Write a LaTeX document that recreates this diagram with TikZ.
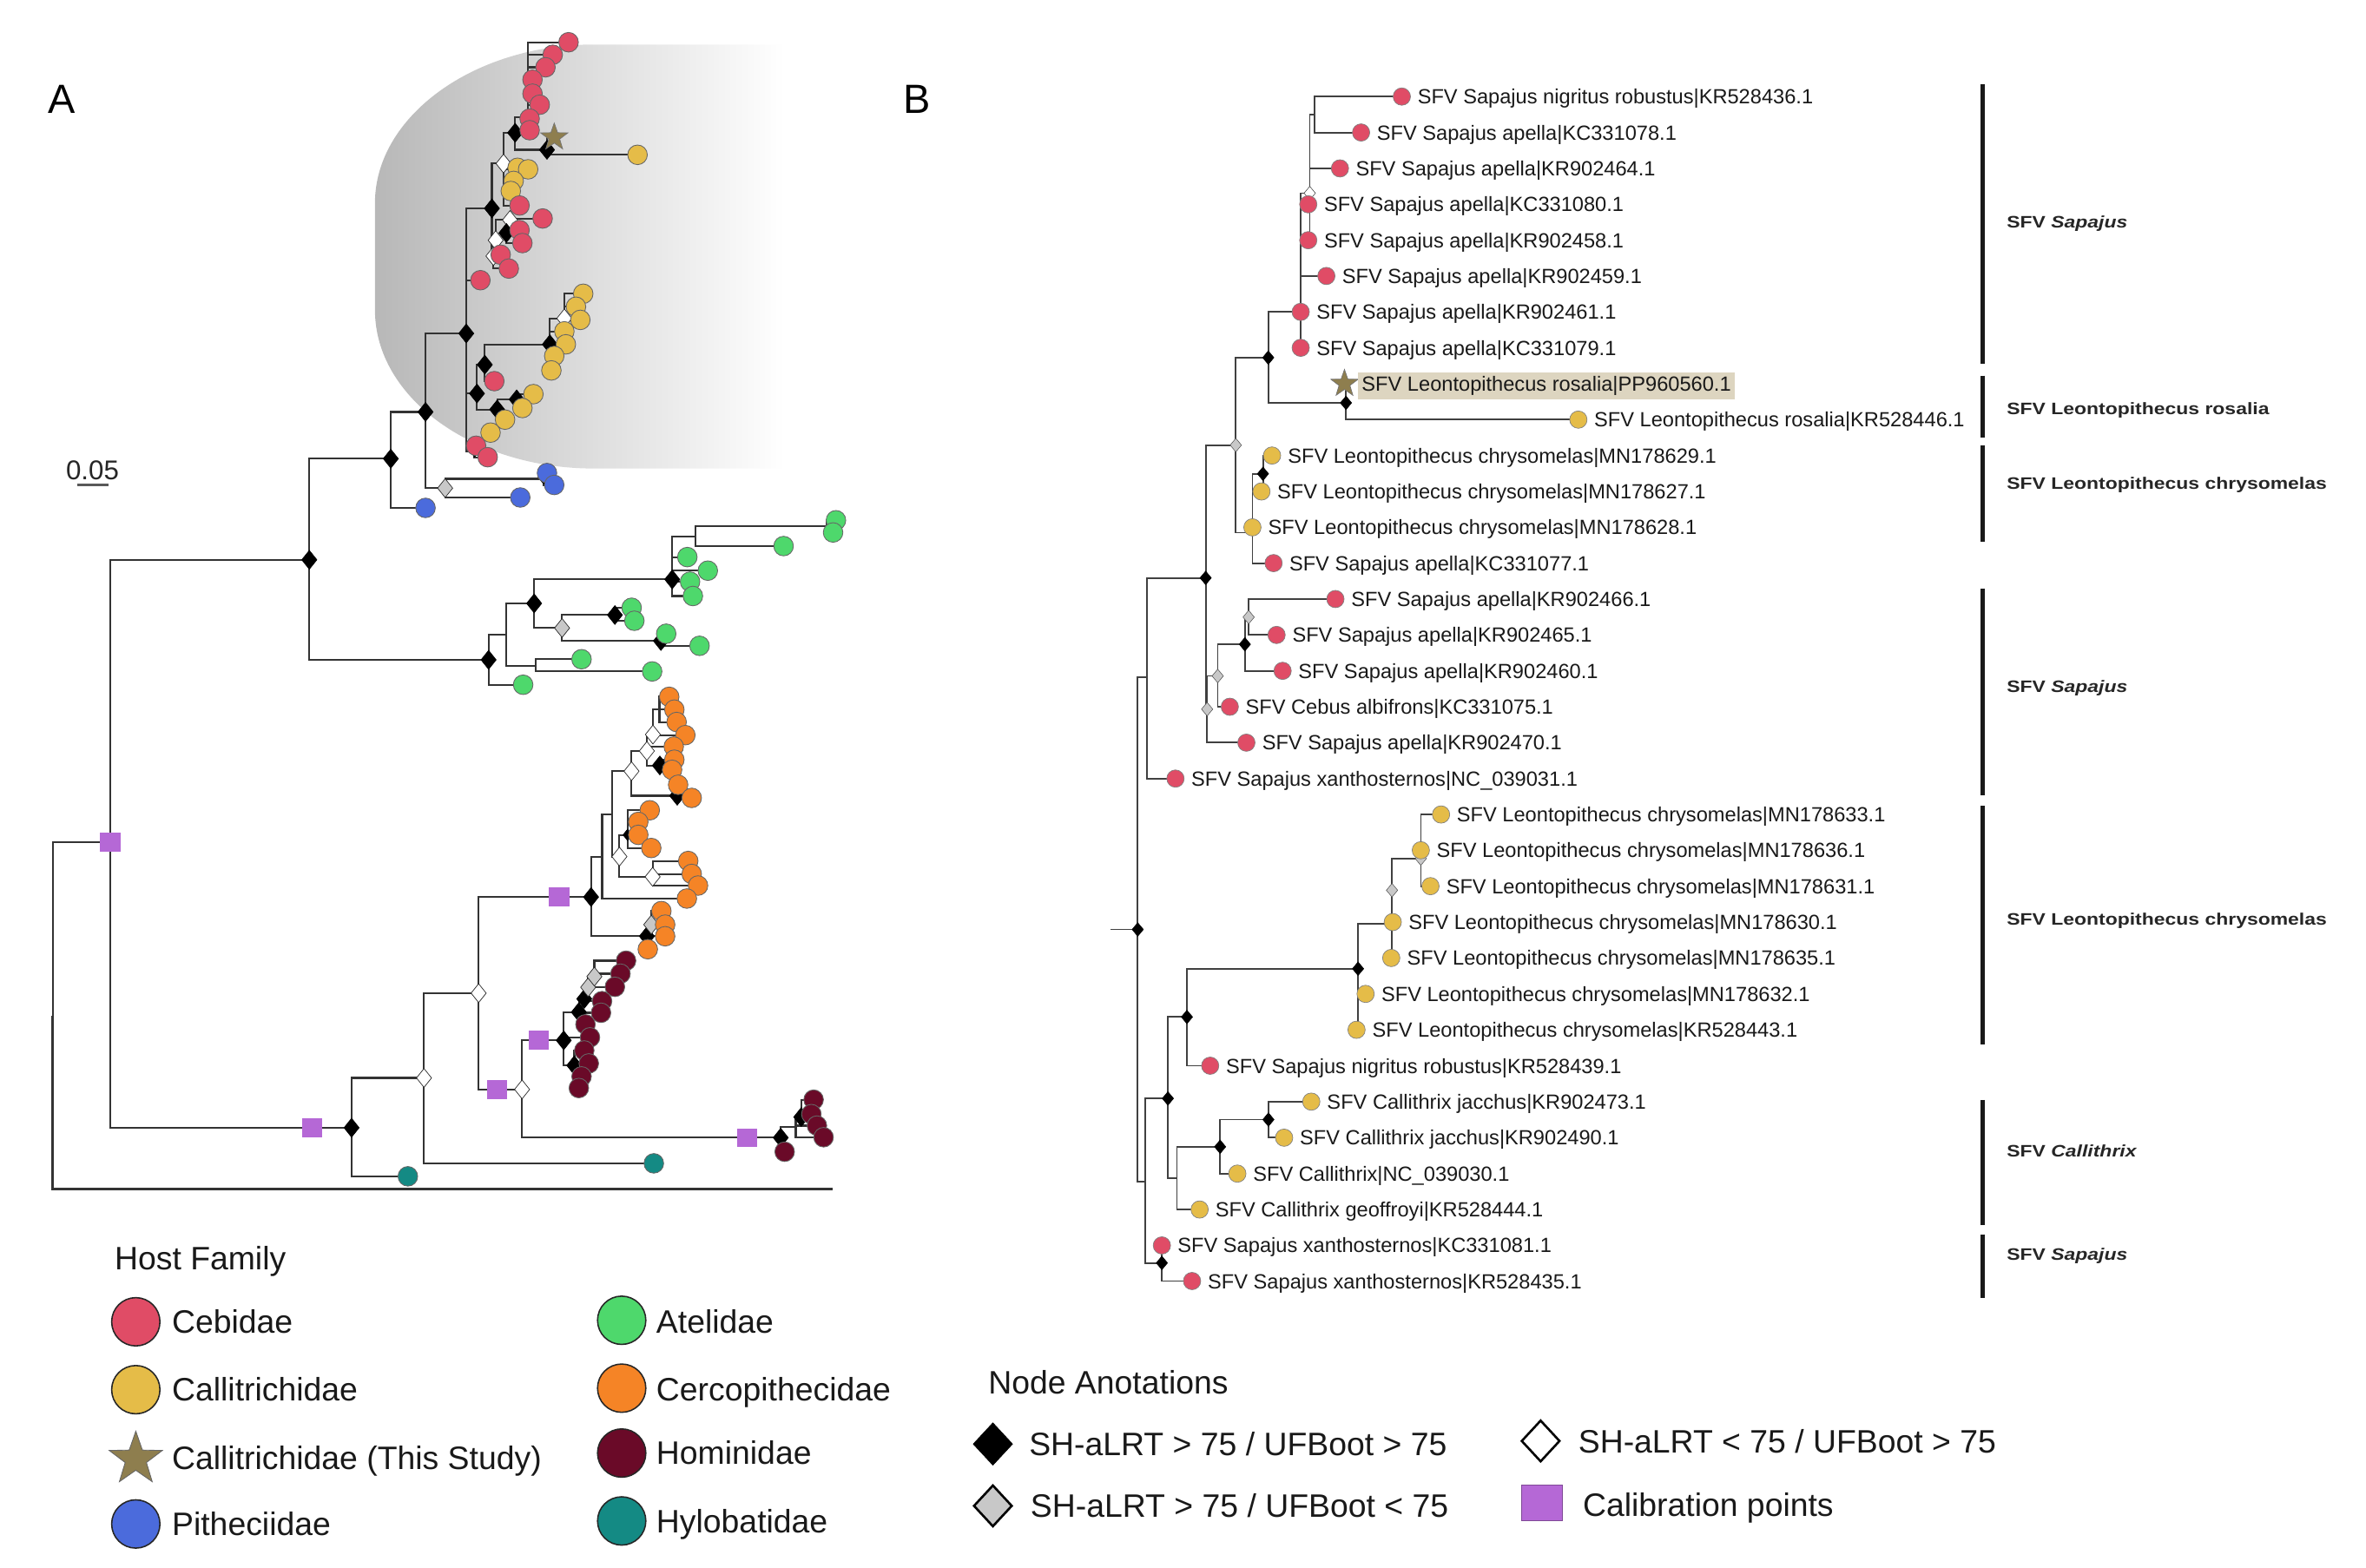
\documentclass[tikz,border=0pt]{standalone}
\usepackage{fontspec}
\setmainfont{Liberation Sans}
\newfontfamily\cladefont{Liberation Sans}[FakeStretch=1.2]
\usetikzlibrary{shapes.geometric}
\pgfdeclarelayer{grad}\pgfdeclarelayer{bg}\pgfsetlayers{grad,bg,main}
\definecolor{cebR}{HTML}{E04C66}
\definecolor{calY}{HTML}{E5BC48}
\definecolor{pitB}{HTML}{4B6BDC}
\definecolor{ateG}{HTML}{4ED86C}
\definecolor{cerO}{HTML}{F58426}
\definecolor{homM}{HTML}{6A0A28}
\definecolor{hylT}{HTML}{148A84}
\definecolor{starC}{HTML}{8E7E4E}
\definecolor{calP}{HTML}{B568D6}
\definecolor{diaG}{HTML}{C8C8C8}
\definecolor{hiB}{HTML}{DDD5C0}
\tikzset{
 every node/.style={inner sep=0pt, outer sep=0pt},
 brA/.style={line width=1.25pt, draw=black!80},
 brB/.style={line width=1.05pt, draw=black!75},
 tipA/.style={circle, minimum size=13pt, draw=black!60, line width=0.5pt},
 tipB/.style={circle, minimum size=11.5pt, draw=black!50, line width=0.4pt},
 tipL/.style={circle, minimum size=32pt, draw=black!85, line width=0.9pt},
 bdA/.style={diamond, fill=black, draw=black, line width=0.4pt, minimum width=10pt, minimum height=12.5pt},
 wdA/.style={bdA, fill=white, draw=black!85},
 gdA/.style={bdA, fill=diaG, draw=black!85},
 sdA/.style={bdA, minimum width=6pt, minimum height=7.5pt},
 bdB/.style={diamond, fill=black, draw=black, line width=0.3pt, minimum width=7.5pt, minimum height=9pt},
 wdB/.style={bdB, fill=white, draw=black!80},
 gdB/.style={bdB, fill=diaG, draw=black!70},
 calsq/.style={rectangle, fill=calP, minimum width=13.5pt, minimum height=12.5pt},
 starA/.style={star, star points=5, star point ratio=2.5, fill=starC, draw=black!55, line width=0.4pt, minimum size=19pt},
 labB/.style={anchor=base west, font=\fontsize{13.6}{16}\selectfont, text=black!90},
 cladeL/.style={anchor=base west, font=\cladefont\bfseries\fontsize{11}{13}\selectfont, text=black!85},
 legT/.style={anchor=base west, font=\fontsize{21.5}{25}\selectfont, text=black!90},
 barB/.style={line width=3pt, draw=black!90},
}
\newcommand\kidsA[2]{\foreach \cc in {#2}{\draw[brA] (#1.center) |- (\cc.center);}}
\newcommand\kidsB[2]{\foreach \cc in {#2}{\draw[brB] (#1.center) |- (\cc.center);}}
\newcommand\tA[4]{\node[tipA,fill=#4] (#1) at (#2,#3) {};}
\newcommand\tB[5]{\node[tipB,fill=#4] (#1) at (#2,#3) {};\path (#1.center) ++(10.5,4.9) node[labB] (#1l) {#5};}
\begin{document}
\begin{tikzpicture}[x=1pt,y=-1pt]
\useasboundingbox (0,0) rectangle (1568,1039);
% ---------------- Panel labels
\node[font=\fontsize{27}{30}\selectfont] (panA) at (41,66) {A};
\node[font=\fontsize{27}{30}\selectfont] (panB) at (608,66) {B};
% ---------------- gradient clade highlight
\begin{pgfonlayer}{grad}
\shade[left color=black!28, middle color=black!14, right color=white]
 (520,29.5) -- (393.5,29.5) .. controls (313.5,29.5) and (248.5,77.5) .. (248.5,134.5)
 -- (248.5,205.5) .. controls (248.5,263.5) and (313.5,310.5) .. (393.5,310.5) -- (520,310.5) -- cycle;
\end{pgfonlayer}
% ---------------- scale bar
\node[anchor=base, font=\fontsize{18}{20}\selectfont, text=black!85] (scl) at (61.3,318) {0.05};
\coordinate (sclA) at (51,321.5); \coordinate (sclB) at (72,321.5);
\draw[line width=1.6pt, black!65] (sclA) -- (sclB);
% ================= PANEL A nodes
\coordinate (rootA) at (35,673);
\coordinate (outE) at (552,788);
\node[calsq] (R1) at (73,558) {};
\node[bdA] (N1) at (205,371) {};
\node[bdA] (N2) at (259,304) {};
\node[bdA] (N3) at (323.8,437.3) {};
\node[bdA] (N4) at (282,273) {};
\node[bdA] (N5) at (309,221) {};
\node[gdA] (P1) at (295,323.5) {};
\node[sdA] (P2) at (360.5,317.3) {};
\node[bdA] (N6) at (326,138.1) {};
\node[wdA] (C3) at (333.7,108.4) {};
\node[bdA] (C1) at (341.4,88) {};
\coordinate (Ca) at (350,77.6);
\node[bdA] (C2) at (362.5,99.3) {};
\node[wdA] (G1) at (327,169.7) {};
\node[wdA] (G2) at (328.5,159.2) {};
\node[wdA] (G3) at (338,145.8) {};
\node[bdA] (G4) at (335.6,154.4) {};
\node[bdA] (N8) at (316.1,260.8) {};
\node[bdA] (N7) at (321.3,241.7) {};
\node[bdA] (N10) at (364.4,228.2) {};
\node[wdA] (N11) at (374,211) {};
\node[bdA] (N9) at (329.5,271.4) {};
\node[bdA] (N9b) at (342.4,264.7) {};
\node[sdA] (Nb) at (314.5,299) {};
\coordinate (A1) at (335.6,420.4);
\coordinate (A3) at (354.8,441.5);
\node[bdA] (A2) at (354,399.9) {};
\node[gdA] (A5) at (372.5,416.2) {};
\node[bdA] (A6) at (407.5,407.6) {};
\node[bdA] (A7) at (438,424.8) {};
\node[bdA] (A4) at (445.5,384) {};
\coordinate (A8) at (461,355.6);
\coordinate (A9) at (548,348.8);
\node[bdA] (O1) at (233,747.4) {};
\node[wdA] (O2) at (281,714.4) {};
\node[wdA] (O3) at (317.2,658.2) {};
\node[bdA] (O4) at (391.7,594.5) {};
\coordinate (O6) at (399,567.7);
\coordinate (O8) at (405.7,539.9);
\node[wdA] (O9) at (418.5,511.1) {};
\node[wdA] (O9a) at (428.7,497.7) {};
\node[wdA] (O9c) at (432.7,486.8) {};
\coordinate (O9e) at (437,470);
\node[bdA] (O9d) at (437.3,507.3) {};
\node[bdA] (O9b) at (448.8,527.4) {};
\node[wdA] (O10) at (410.5,567.7) {};
\node[sdA] (O10a) at (415.9,553.3) {};
\node[wdA] (O11) at (432.5,581.1) {};
\node[bdA] (O7) at (428.7,620.5) {};
\node[gdA] (O7g) at (431.6,612.8) {};
\node[wdA] (O5) at (346,722) {};
\node[bdA] (O12) at (373.6,689.5) {};
\node[bdA] (O14) at (383.6,670.8) {};
\node[bdA] (O14a) at (387.2,662) {};
\node[gdA] (O14b) at (389.8,654.3) {};
\node[gdA] (O14c) at (393.9,647.2) {};
\node[bdA] (O15) at (380.6,706.1) {};
\node[bdA] (O13) at (517.4,754) {};
\coordinate (O13a) at (527.4,747);
\node[bdA] (O13b) at (531,740.3) {};
% calibration squares on branches
\node[calsq] (cal1) at (207,747.4) {};
\node[calsq] (cal2) at (370.6,594.5) {};
\node[calsq] (cal3) at (329.3,722) {};
\node[calsq] (cal4) at (357,689.5) {};
\node[calsq] (cal5) at (495,754) {};
% ---- Panel A tips
\tA{r1}{376.8}{28}{cebR}\tA{r2}{366.3}{36.3}{cebR}\tA{r3}{361.5}{44.6}{cebR}\tA{r4}{352.9}{52.8}{cebR}
\tA{r5}{352.9}{62.1}{cebR}\tA{r6}{357.7}{69.4}{cebR}\tA{r7}{351}{78.6}{cebR}\tA{r8}{351}{86.3}{cebR}
\tA{ay1}{422.5}{102.6}{calY}
\tA{y1}{343}{111.2}{calY}\tA{y2}{350}{112.2}{calY}\tA{y3}{340.4}{119.9}{calY}\tA{y4}{338.5}{126.6}{calY}
\tA{r9}{344.3}{136.2}{cebR}
\tA{r10}{359.6}{144.8}{cebR}\tA{r11}{344.3}{152.5}{cebR}\tA{r12}{346.2}{161.1}{cebR}
\tA{r13}{331.8}{168.8}{cebR}\tA{r14}{337.2}{178}{cebR}\tA{r15}{318.4}{185.7}{cebR}
\tA{y5}{386.5}{194.7}{calY}\tA{y6}{381.7}{203.3}{calY}\tA{y7}{384.6}{212}{calY}\tA{y8}{374}{219.6}{calY}
\tA{y9}{375}{228.2}{calY}\tA{y10}{367.3}{235.9}{calY}\tA{y11}{365.4}{245.5}{calY}
\tA{r16}{327.6}{252.6}{cebR}
\tA{y12}{353.5}{261.2}{calY}\tA{y13}{346.2}{270.4}{calY}\tA{y14}{334.7}{278.1}{calY}\tA{y15}{325.1}{286.7}{calY}
\tA{r17}{315.5}{295.4}{cebR}\tA{r18}{323.2}{303}{cebR}
\tA{pb1}{362.5}{313.5}{pitB}\tA{pb2}{367.3}{321.4}{pitB}\tA{pb3}{344.8}{329.7}{pitB}\tA{pb4}{282}{336.6}{pitB}
\tA{g1}{554}{344.8}{ateG}\tA{g2}{552.1}{352.9}{ateG}\tA{g3}{519.3}{361.9}{ateG}\tA{g4}{455.5}{369.2}{ateG}
\tA{g5}{469.1}{378.2}{ateG}\tA{g6}{457.3}{385.5}{ateG}\tA{g7}{459.2}{395}{ateG}\tA{g8}{418.6}{402.8}{ateG}
\tA{g9}{420.4}{411.4}{ateG}\tA{g10}{441.5}{420}{ateG}\tA{g11}{463.6}{428}{ateG}\tA{g12}{385.4}{436.9}{ateG}
\tA{g13}{432.2}{445}{ateG}\tA{g14}{346.7}{453.8}{ateG}
\tA{o1}{443.5}{461.8}{cerO}\tA{o2}{446.9}{470.3}{cerO}\tA{o3}{448.4}{478.5}{cerO}\tA{o4}{454.2}{487.2}{cerO}
\tA{o5}{446.5}{494.8}{cerO}\tA{o6}{446.9}{503.5}{cerO}\tA{o7}{445.4}{510.2}{cerO}\tA{o8}{449.4}{520.1}{cerO}
\tA{o9}{458.4}{528.8}{cerO}\tA{o10}{430.6}{537}{cerO}\tA{o11}{423}{544.7}{cerO}\tA{o12}{423}{553.3}{cerO}
\tA{o13}{431.6}{562}{cerO}\tA{o14}{456.1}{570.6}{cerO}\tA{o15}{458.4}{579.2}{cerO}\tA{o16}{462.6}{586.9}{cerO}
\tA{o17}{455.2}{595.5}{cerO}\tA{o18}{438.3}{603.8}{cerO}\tA{o19}{440.8}{612.8}{cerO}\tA{o20}{440.8}{620.5}{cerO}
\tA{o21}{429.3}{629.1}{cerO}
\tA{m1}{414.9}{636.7}{homM}\tA{m2}{411.2}{645.3}{homM}\tA{m3}{407.5}{654}{homM}\tA{m4}{399}{663.5}{homM}
\tA{m5}{398.3}{671.2}{homM}\tA{m6}{388}{678.9}{homM}\tA{m7}{391}{687.5}{homM}\tA{m8}{387.2}{696.2}{homM}
\tA{m9}{390.2}{704.8}{homM}\tA{m10}{385.4}{713.4}{homM}\tA{m11}{383.6}{721.1}{homM}
\tA{m12}{539.2}{728.8}{homM}\tA{m13}{537.7}{738.4}{homM}\tA{m14}{541.4}{746}{homM}\tA{m15}{545.8}{753.7}{homM}
\tA{m16}{520}{763.3}{homM}
\tA{t1}{270.3}{779.6}{hylT}\tA{t2}{433.3}{771}{hylT}
\node[starA] (ast) at (367.3,91) {};
% ---- Panel A branches
\begin{pgfonlayer}{bg}
\kidsA{rootA}{R1}
\draw[brA, line width=1.6pt] (rootA.center) |- (outE.center);
\kidsA{R1}{N1,O1}
\kidsA{N1}{N2,N3}
\kidsA{N2}{N4,pb4}
\kidsA{N4}{N5,P1}
\kidsA{P1}{P2,pb3}
\kidsA{P2}{pb1,pb2}
\kidsA{N5}{N6,r15,N8,Nb}
\kidsA{N6}{C3,G1}
\kidsA{C3}{C1,y1,y2,y3,y4,r9}
\kidsA{C1}{Ca,C2}
\kidsA{Ca}{r1,r2,r3,r4,r5,r6,r7,r8}
\kidsA{C2}{ast,ay1}
\kidsA{G1}{G2,r14}
\kidsA{G2}{G3,r13}
\kidsA{G3}{r10,G4}
\kidsA{G4}{r11,r12}
\kidsA{N8}{N7,N9}
\kidsA{N7}{N10,r16}
\kidsA{N10}{N11,y8,y9,y10,y11}
\kidsA{N11}{y5,y6,y7}
\kidsA{N9}{N9b,y14,y15}
\kidsA{N9b}{y12,y13}
\kidsA{Nb}{r17,r18}
\kidsA{N3}{A1,g14}
\kidsA{A1}{A2,A3}
\kidsA{A3}{g12,g13}
\kidsA{A2}{A4,A5}
\kidsA{A5}{A6,A7}
\kidsA{A6}{g8,g9}
\kidsA{A7}{g10,g11}
\kidsA{A4}{A8,g4,g5,g6,g7}
\kidsA{A8}{A9,g3}
\kidsA{A9}{g1,g2}
\kidsA{O1}{O2,t1}
\kidsA{O2}{O3,t2}
\kidsA{O3}{O4,O5}
\kidsA{O4}{O6,O7}
\kidsA{O6}{O8,o17}
\kidsA{O8}{O9,O10}
\kidsA{O9}{O9a,O9b}
\kidsA{O9a}{O9c,O9d,o5}
\kidsA{O9c}{O9e,o4}
\kidsA{O9e}{o1,o2,o3}
\kidsA{O9d}{o6,o7}
\kidsA{O9b}{o8,o9}
\kidsA{O10}{O10a,O11}
\kidsA{O10a}{o10,o11,o12,o13}
\kidsA{O11}{o14,o15,o16}
\kidsA{O7}{O7g,o20,o21}
\kidsA{O7g}{o18,o19}
\kidsA{O5}{O12,O13}
\kidsA{O12}{O14,O15,m7}
\kidsA{O14}{O14a,m5,m6}
\kidsA{O14a}{O14b,m4}
\kidsA{O14b}{O14c,m3}
\kidsA{O14c}{m1,m2}
\kidsA{O15}{m8,m9,m10,m11}
\kidsA{O13}{O13a,m16}
\kidsA{O13a}{O13b,m14,m15}
\kidsA{O13b}{m12,m13}
\end{pgfonlayer}
% ================= PANEL B
\node[bdB] (rB) at (754,616) {};
\coordinate (rBs) at (736,616);
\coordinate (U1) at (760,449);
\node[bdB] (U2) at (799,383) {};
\node[gdB] (U3) at (819,295) {};
\node[gdB] (U4) at (800,470) {};
\node[gdB] (U5) at (807,448) {};
\node[bdB] (U6) at (825,427) {};
\node[gdB] (U7) at (827.5,409) {};
\node[bdB] (U8) at (840.5,237) {};
\coordinate (U12) at (862,206.7);
\node[wdB] (U13a) at (868,128) {};
\coordinate (U14) at (871,76);
\node[bdB] (U13) at (892,267) {};
\coordinate (U9) at (830,353);
\node[bdB] (U10) at (837,314) {};
\coordinate (L1) at (759,783);
\node[bdB] (L2) at (774,728) {};
\node[bdB] (L3) at (770,837) {};
\node[bdB] (L4) at (786.6,674) {};
\node[bdB] (L5) at (900,642) {};
\coordinate (L6) at (922.5,612);
\node[gdB] (L6a) at (922.5,590) {};
\node[gdB] (L7) at (941.6,569) {};
\coordinate (L8) at (780,781);
\node[bdB] (L9) at (808.6,760) {};
\node[bdB] (L10) at (840.6,742) {};
% highlighted label (this study)
\node[starA, minimum size=19pt] (b9) at (891,254.3) {};
\path (b9.center) ++(9,4.9) node[labB, fill=hiB, inner xsep=2.5pt, inner ysep=2.6pt, text height=9.8pt, text depth=3pt] (b9l) {SFV Leontopithecus rosalia|PP960560.1};
\tB{b1}{929}{64}{cebR}{SFV Sapajus nigritus robustus|KR528436.1}
\tB{b2}{902}{87.8}{cebR}{SFV Sapajus apella|KC331078.1}
\tB{b3}{888}{111.6}{cebR}{SFV Sapajus apella|KR902464.1}
\tB{b4}{867}{135.4}{cebR}{SFV Sapajus apella|KC331080.1}
\tB{b5}{867}{159.2}{cebR}{SFV Sapajus apella|KR902458.1}
\tB{b6}{879}{182.9}{cebR}{SFV Sapajus apella|KR902459.1}
\tB{b7}{862}{206.7}{cebR}{SFV Sapajus apella|KR902461.1}
\tB{b8}{862}{230.5}{cebR}{SFV Sapajus apella|KC331079.1}
\tB{b10}{1046}{278.1}{calY}{SFV Leontopithecus rosalia|KR528446.1}
\tB{b11}{843}{301.9}{calY}{SFV Leontopithecus chrysomelas|MN178629.1}
\tB{b12}{836}{325.7}{calY}{SFV Leontopithecus chrysomelas|MN178627.1}
\tB{b13}{830}{349.5}{calY}{SFV Leontopithecus chrysomelas|MN178628.1}
\tB{b14}{844}{373.2}{cebR}{SFV Sapajus apella|KC331077.1}
\tB{b15}{885}{397}{cebR}{SFV Sapajus apella|KR902466.1}
\tB{b16}{846}{420.8}{cebR}{SFV Sapajus apella|KR902465.1}
\tB{b17}{850}{444.6}{cebR}{SFV Sapajus apella|KR902460.1}
\tB{b18}{815}{468.4}{cebR}{SFV Cebus albifrons|KC331075.1}
\tB{b19}{826}{492.2}{cebR}{SFV Sapajus apella|KR902470.1}
\tB{b20}{779}{516}{cebR}{SFV Sapajus xanthosternos|NC\_039031.1}
\tB{b21}{955}{539.8}{calY}{SFV Leontopithecus chrysomelas|MN178633.1}
\tB{b22}{941.6}{563.5}{calY}{SFV Leontopithecus chrysomelas|MN178636.1}
\tB{b23}{948}{587.3}{calY}{SFV Leontopithecus chrysomelas|MN178631.1}
\tB{b24}{923}{611.1}{calY}{SFV Leontopithecus chrysomelas|MN178630.1}
\tB{b25}{922}{634.9}{calY}{SFV Leontopithecus chrysomelas|MN178635.1}
\tB{b26}{905}{658.7}{calY}{SFV Leontopithecus chrysomelas|MN178632.1}
\tB{b27}{899}{682.5}{calY}{SFV Leontopithecus chrysomelas|KR528443.1}
\tB{b28}{802}{706.3}{cebR}{SFV Sapajus nigritus robustus|KR528439.1}
\tB{b29}{869}{730.1}{calY}{SFV Callithrix jacchus|KR902473.1}
\tB{b30}{851}{754}{calY}{SFV Callithrix jacchus|KR902490.1}
\tB{b31}{820}{777.8}{calY}{SFV Callithrix|NC\_039030.1}
\tB{b32}{795}{801.6}{calY}{SFV Callithrix geoffroyi|KR528444.1}
\tB{b33}{770}{825.4}{cebR}{SFV Sapajus xanthosternos|KC331081.1}
\tB{b34}{790}{849}{cebR}{SFV Sapajus xanthosternos|KR528435.1}
\begin{pgfonlayer}{bg}
\draw[brB] (rBs.center) -- (rB.center);
\kidsB{rB}{U1,L1}
\kidsB{U1}{U2,b20}
\kidsB{U2}{U3,U4}
\kidsB{U3}{U8,U9}
\kidsB{U8}{U12,U13}
\kidsB{U12}{b7,b8,b6,U13a}
\kidsB{U13a}{b4,b5,b3,U14}
\kidsB{U14}{b1,b2}
\kidsB{U13}{b9,b10}
\kidsB{U9}{U10,b13,b14}
\kidsB{U10}{b11,b12}
\kidsB{U4}{U5,b19}
\kidsB{U5}{U6,b18}
\kidsB{U6}{U7,b17}
\kidsB{U7}{b15,b16}
\kidsB{L1}{L2,L3}
\kidsB{L3}{b33,b34}
\kidsB{L2}{L4,L8}
\kidsB{L4}{L5,b28}
\kidsB{L5}{L6,b26,b27}
\kidsB{L6}{L6a,b25}
\kidsB{L6a}{L7,b24}
\kidsB{L7}{b21,b22,b23}
\kidsB{L8}{L9,b32}
\kidsB{L9}{L10,b31}
\kidsB{L10}{b29,b30}
\end{pgfonlayer}
% clade bars and labels
\coordinate (k1a) at (1314,56);  \coordinate (k1b) at (1314,241);
\coordinate (k2a) at (1314,249); \coordinate (k2b) at (1314,290);
\coordinate (k3a) at (1314,295); \coordinate (k3b) at (1314,359);
\coordinate (k4a) at (1314,390); \coordinate (k4b) at (1314,527);
\coordinate (k5a) at (1314,534); \coordinate (k5b) at (1314,692);
\coordinate (k6a) at (1314,729); \coordinate (k6b) at (1314,812);
\coordinate (k7a) at (1314,818); \coordinate (k7b) at (1314,860);
\foreach \k in {1,...,7}{\draw[barB] (k\k a) -- (k\k b);}
\node[cladeL] (kl1) at (1330,151) {SFV \textit{Sapajus}};
\node[cladeL] (kl2) at (1330,275) {SFV Leontopithecus rosalia};
\node[cladeL] (kl3) at (1330,324) {SFV Leontopithecus chrysomelas};
\node[cladeL] (kl4) at (1330,459) {SFV \textit{Sapajus}};
\node[cladeL] (kl5) at (1330,613) {SFV Leontopithecus chrysomelas};
\node[cladeL] (kl6) at (1330,767) {SFV \textit{Callithrix}};
\node[cladeL] (kl7) at (1330,835) {SFV \textit{Sapajus}};
% ================= Legends
\node[legT] (hf) at (76,841.7) {Host Family};
\node[tipL, fill=cebR] (lc1) at (90,876) {};
\node[legT] (lt1) at (114,883.7) {Cebidae};
\node[tipL, fill=calY] (lc2) at (90,921) {};
\node[legT] (lt2) at (114,928.7) {Callitrichidae};
\node[star, star points=5, star point ratio=2.5, fill=starC, draw=black!60, line width=0.5pt, minimum size=37pt] (lc3) at (90,967) {};
\node[legT] (lt3) at (114,973.7) {Callitrichidae (This Study)};
\node[tipL, fill=pitB] (lc4) at (90,1010) {};
\node[legT] (lt4) at (114,1017.7) {Pitheciidae};
\node[tipL, fill=ateG] (lc5) at (412,875) {};
\node[legT] (lt5) at (435,883.7) {Atelidae};
\node[tipL, fill=cerO] (lc6) at (412,920) {};
\node[legT] (lt6) at (435,928.7) {Cercopithecidae};
\node[tipL, fill=homM] (lc7) at (412,963) {};
\node[legT] (lt7) at (435,970.7) {Hominidae};
\node[tipL, fill=hylT] (lc8) at (412,1008) {};
\node[legT] (lt8) at (435,1015.7) {Hylobatidae};
\node[legT] (na) at (655,924) {Node Anotations};
\node[diamond, fill=black, draw=black, minimum width=26pt, minimum height=28pt] (ld1) at (658,957) {};
\node[legT] (ldt1) at (682,964.7) {SH-aLRT > 75 / UFBoot > 75};
\node[diamond, fill=white, draw=black, line width=1.5pt, minimum width=25pt, minimum height=27pt] (ld2) at (1021,955) {};
\node[legT] (ldt2) at (1046,962.7) {SH-aLRT < 75 / UFBoot > 75};
\node[diamond, fill=diaG, draw=black, line width=1.5pt, minimum width=25pt, minimum height=27pt] (ld3) at (658,998) {};
\node[legT] (ldt3) at (683,1005.7) {SH-aLRT > 75 / UFBoot < 75};
\node[rectangle, fill=calP, draw=calP!70!black, line width=0.5pt, minimum width=27pt, minimum height=24pt] (ld4) at (1022,996) {};
\node[legT] (ldt4) at (1049,1004.7) {Calibration points};
\end{tikzpicture}
\end{document}
